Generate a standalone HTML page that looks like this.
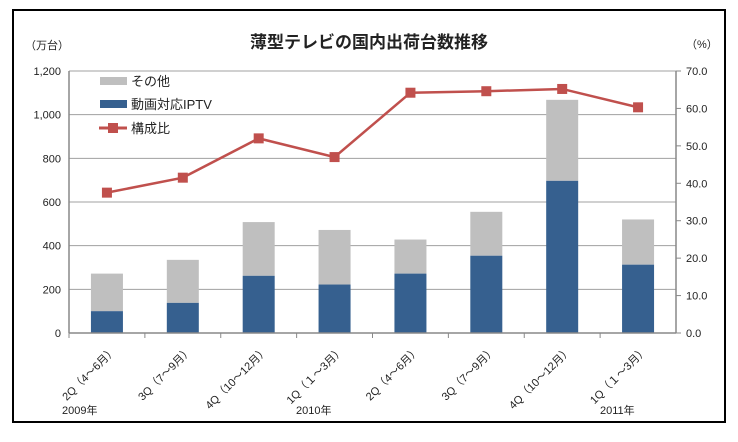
<!DOCTYPE html>
<html><head><meta charset="utf-8"><style>
body{margin:0;background:#fff;}
svg text{font-family:"Liberation Sans","Noto Sans CJK JP",sans-serif;}
</style></head><body>
<svg width="738" height="437" xmlns="http://www.w3.org/2000/svg">
<rect x="13" y="10" width="712" height="412" fill="#fff" stroke="#000" stroke-width="2"/>
<text x="369" y="48" font-size="17" font-weight="bold" text-anchor="middle" fill="#222">薄型テレビの国内出荷台数推移</text>
<text x="25" y="49" font-size="11" fill="#222">（万台）</text>
<text x="686" y="48" font-size="11" fill="#222">（%）</text>
<g id="grid"></g><g id="bars"></g><g id="line"></g><g id="axes"></g>
<g>
<rect x="100" y="77" width="27" height="8" fill="#bfbfbf"/>
<text x="131" y="86" font-size="13" fill="#222">その他</text>
<rect x="100" y="100" width="27" height="8" fill="#36608f"/>
<text x="131" y="109" font-size="13" fill="#222">動画対応IPTV</text>
<line x1="99" y1="128" x2="127" y2="128" stroke="#c0504d" stroke-width="3"/>
<rect x="108" y="123" width="10" height="10" fill="#c0504d"/>
<text x="131" y="133" font-size="13" fill="#222">構成比</text>
</g>
<text x="62" y="414" font-size="11" fill="#222">2009年</text>
<text x="296" y="414" font-size="11" fill="#222">2010年</text>
<text x="600" y="414" font-size="11" fill="#222">2011年</text>
</svg>
<script>
const categories=["2Q（4～6月）","3Q（7～9月）","4Q（10～12月）","1Q（１～3月）","2Q（4～6月）","3Q（7～9月）","4Q（10～12月）","1Q（１～3月）"];
const totalValues=[272,335,508,472,428,555,1068,520];
const iptvValues=[100,138,262,222,272,354,697,313];
const ratioValues=[37.5,41.5,52,47,64.2,64.6,65.2,60.3];
const leftTicks=["0","200","400","600","800","1,000","1,200"];
const rightTicks=["0.0","10.0","20.0","30.0","40.0","50.0","60.0","70.0"];
const NS="http://www.w3.org/2000/svg";
const X0=69,X1=676,Y0=333,Y1=71;
const yL=v=>Y0-(v/1200)*(Y0-Y1);
const yR=v=>Y0-(v/70)*(Y0-Y1);
const bw=(X1-X0)/categories.length;
const xc=i=>X0+bw*(i+0.5);
function mk(tag,attrs,parent){const e=document.createElementNS(NS,tag);for(const k in attrs)e.setAttribute(k,attrs[k]);document.getElementById(parent).appendChild(e);return e;}
leftTicks.forEach((t,i)=>{const y=yL(i*200);
 if(i>0){const g=mk('line',{x1:X0,x2:X1,y1:y,y2:y,stroke:'#a0a0a0','stroke-width':1},'grid');
 
 }
 const tx=mk('text',{x:X0-8,y:y+4,'font-size':11,'text-anchor':'end',fill:'#222'},'axes');tx.textContent=t;
 
 });
rightTicks.forEach((t,i)=>{const y=yR(i*10);
 mk('line',{x1:X1,x2:X1+5,y1:y,y2:y,stroke:'#888'},'axes');
 const tx=mk('text',{x:X1+10,y:y+4,'font-size':11,fill:'#222'},'axes');tx.textContent=t;
 
 });
categories.forEach((c,i)=>{const x=xc(i);
 const o=mk('rect',{x:x-16,y:yL(totalValues[i]),width:32,height:yL(iptvValues[i])-yL(totalValues[i]),fill:'#bfbfbf'},'bars');
 
 
 const b=mk('rect',{x:x-16,y:yL(iptvValues[i]),width:32,height:Y0-yL(iptvValues[i]),fill:'#36608f'},'bars');
 
 
 mk('line',{x1:X0+bw*i,x2:X0+bw*i,y1:Y0,y2:Y0+5,stroke:'#888'},'axes');
 const tx=mk('text',{x:x+10,y:Y0+18,'font-size':11,'text-anchor':'end',fill:'#222',transform:`rotate(-45 ${x+10} ${Y0+18})`},'axes');tx.textContent=c;
 
 });
mk('line',{x1:X0,x2:X0,y1:Y1,y2:Y0,stroke:'#888','stroke-width':1.5},'axes');
mk('line',{x1:X1,x2:X1,y1:Y1,y2:Y0,stroke:'#888','stroke-width':1.5},'axes');
mk('line',{x1:X0,x2:X1,y1:Y0,y2:Y0,stroke:'#888','stroke-width':1.5},'axes');
const pl=mk('polyline',{points:ratioValues.map((v,i)=>xc(i)+','+yR(v)).join(' '),fill:'none',stroke:'#c0504d','stroke-width':2.5},'line');


ratioValues.forEach((v,i)=>{const m=mk('rect',{x:xc(i)-5,y:yR(v)-5,width:10,height:10,fill:'#c0504d'},'line');
 
 });
</script>
</body></html>
